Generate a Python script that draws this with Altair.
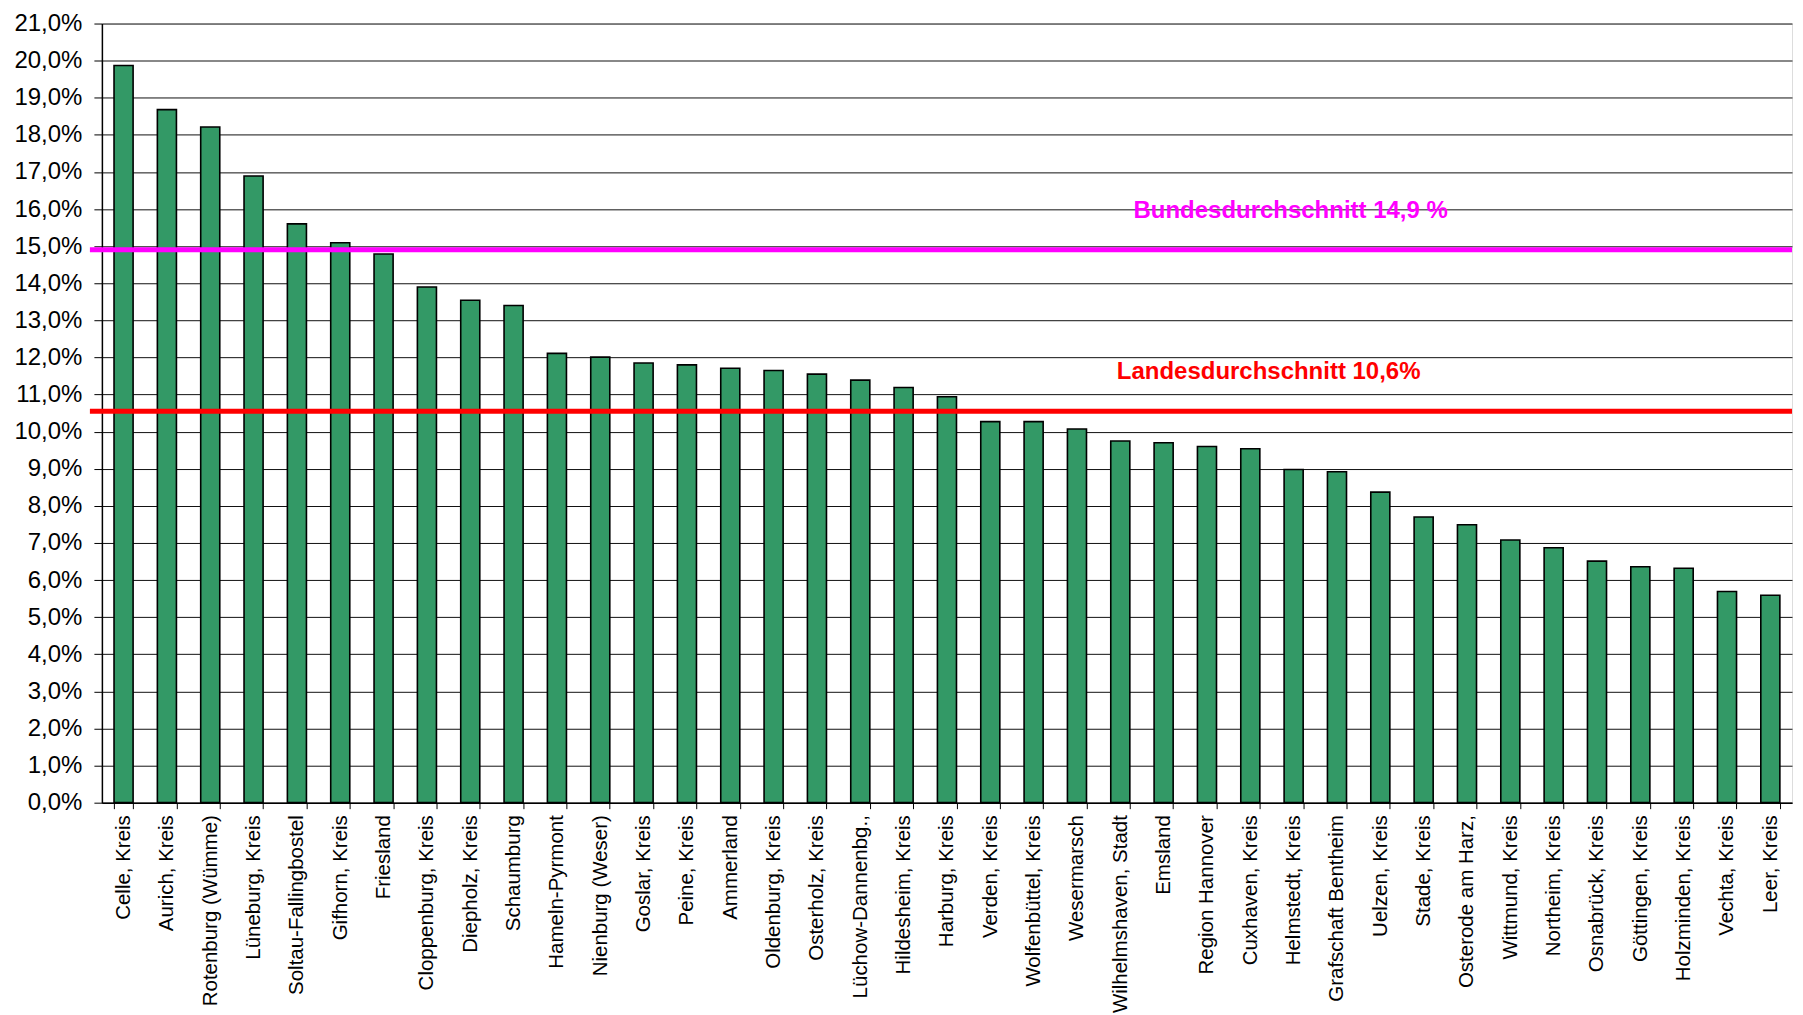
import altair as alt
import pandas as pd

regions = [
    "Celle, Kreis", "Aurich, Kreis", "Rotenburg (Wümme)", "Lüneburg, Kreis",
    "Soltau-Fallingbostel", "Gifhorn, Kreis", "Friesland", "Cloppenburg, Kreis",
    "Diepholz, Kreis", "Schaumburg", "Hameln-Pyrmont", "Nienburg (Weser)",
    "Goslar, Kreis", "Peine, Kreis", "Ammerland", "Oldenburg, Kreis",
    "Osterholz, Kreis", "Lüchow-Dannenbg.,", "Hildesheim, Kreis", "Harburg, Kreis",
    "Verden, Kreis", "Wolfenbüttel, Kreis", "Wesermarsch", "Wilhelmshaven, Stadt",
    "Emsland", "Region Hannover", "Cuxhaven, Kreis", "Helmstedt, Kreis",
    "Grafschaft Bentheim", "Uelzen, Kreis", "Stade, Kreis", "Osterode am Harz,",
    "Wittmund, Kreis", "Northeim, Kreis", "Osnabrück, Kreis", "Göttingen, Kreis",
    "Holzminden, Kreis", "Vechta, Kreis", "Leer, Kreis",
]
values = [
    19.87, 18.68, 18.21, 16.89, 15.60, 15.09, 14.79, 13.90,
    13.54, 13.40, 12.11, 12.01, 11.85, 11.80, 11.71, 11.65,
    11.55, 11.39, 11.19, 10.94, 10.27, 10.27, 10.07, 9.75,
    9.70, 9.60, 9.54, 8.98, 8.92, 8.37, 7.70, 7.49,
    7.08, 6.87, 6.51, 6.36, 6.32, 5.69, 5.59,
]

ref_names = ["Bundesdurchschnitt 14,9 %", "Landesdurchschnitt 10,6%"]
ref_values = [14.9, 10.55]
ref_colors = ["#FF00FF", "#FF0000"]
label_anchor = "Helmstedt, Kreis"

W = 1692
H = 780

bars_df = pd.DataFrame({"region": regions, "value": values})

x_enc = alt.X(
    "region:N",
    sort=regions,
    title=None,
    scale=alt.Scale(paddingInner=0.56, paddingOuter=0.28),
    axis=alt.Axis(
        labelAngle=-90,
        labelFontSize=20.5,
        labelFont="Liberation Sans",
        labelColor="#000000",
        labelPadding=6,
        labelLimit=400,
        tickBand="extent",
        tickSize=6,
        tickColor="#000000",
        domainColor="#000000",
        domainWidth=1.5,
        grid=False,
        labelOverlap=False,
    ),
)
y_enc = alt.Y(
    "value:Q",
    title=None,
    scale=alt.Scale(domain=[0, 21], nice=False),
    axis=alt.Axis(
        values=list(range(0, 22)),
        labelExpr="replace(format(datum.value, '.1f'), '.', ',') + '%'",
        labelFontSize=24,
        labelFont="Liberation Sans",
        labelColor="#000000",
        labelPadding=12,
        labelLimit=200,
        labelOverlap=False,
        labelFlush=False,
        tickSize=8,
        tickColor="#000000",
        domainColor="#000000",
        domainWidth=1.5,
        grid=True,
        gridColor="#111111",
        gridWidth=1,
        minExtent=94,
    ),
)

bars = alt.Chart(bars_df).mark_bar(
    color="#339966", stroke="#000000", strokeWidth=1.6
).encode(x=x_enc, y=y_enc)

ref_df = pd.DataFrame({"name": ref_names, "value": ref_values, "color": ref_colors})

rules = alt.Chart(ref_df).mark_rule(strokeWidth=5).encode(
    y=y_enc,
    x=alt.value(-12),
    x2=alt.value(W),
    color=alt.Color("color:N", scale=None),
)

texts = []
for i, dx in enumerate([-3, -25]):
    one = pd.DataFrame({
        "name": [ref_names[i]],
        "value": [ref_values[i]],
        "color": [ref_colors[i]],
        "region": [label_anchor],
    })
    texts.append(
        alt.Chart(one).mark_text(
            fontSize=24, fontWeight="bold", font="Liberation Sans",
            align="center", baseline="middle", dx=dx, dy=-39,
        ).encode(
            x=x_enc,
            y=y_enc,
            text="name:N",
            color=alt.Color("color:N", scale=None),
        )
    )

chart = alt.layer(bars, rules, *texts).properties(
    width=W, height=H, padding={"left": 0, "top": 3, "right": 0, "bottom": 0}
).configure_view(stroke=None).configure(background="white")

chart.save("out.html", embed_options={"renderer": "svg", "actions": False})
